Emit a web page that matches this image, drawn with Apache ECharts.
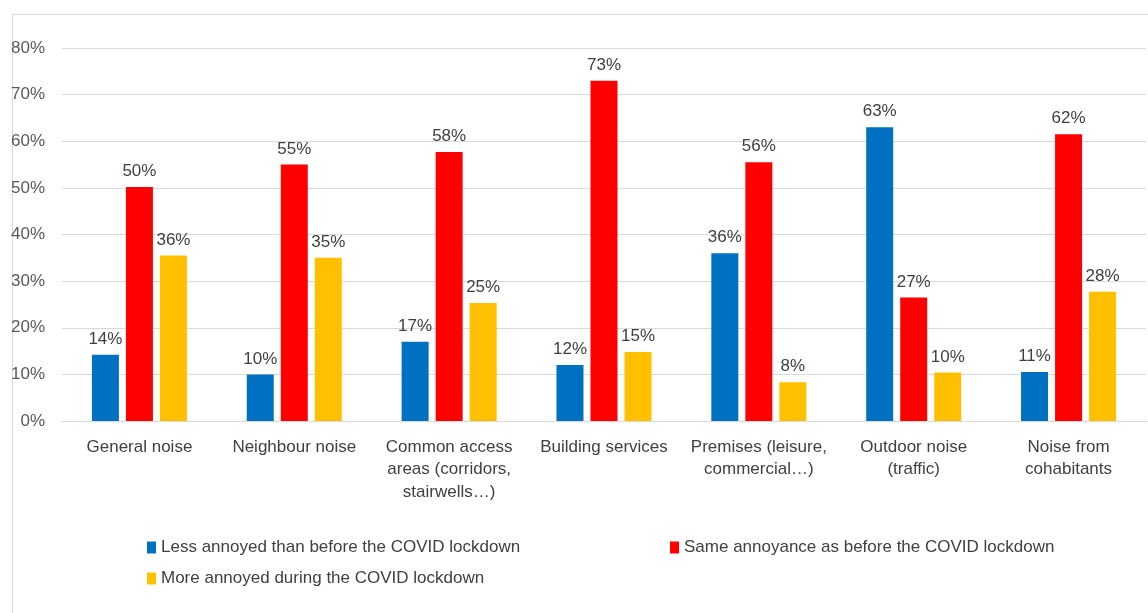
<!DOCTYPE html>
<html>
<head>
<meta charset="utf-8">
<style>
    html, body { margin: 0; padding: 0; background: #fff; }
    #chart { width: 1148px; height: 613px; }
</style>
</head>
<body>
<div id="chart"></div>
<script src="https://cdn.jsdelivr.net/npm/echarts@6/dist/echarts.min.js"></script>
<script>
    var categories = ['General noise', 'Neighbour noise', 'Common access\nareas (corridors,\nstairwells…)', 'Building services',
        'Premises (leisure,\ncommercial…)', 'Outdoor noise\n(traffic)', 'Noise from\ncohabitants'];
    var lessAnnoyed = [14.2, 10, 17, 12, 36, 63, 10.5];
    var sameAnnoyance = [50.2, 55, 57.7, 73, 55.5, 26.5, 61.5];
    var moreAnnoyed = [35.5, 35, 25.3, 14.8, 8.3, 10.4, 27.7];
    var seriesNames = ['Less annoyed than before the COVID lockdown', 'Same annoyance as before the COVID lockdown', 'More annoyed during the COVID lockdown'];
    var colors = ['#0070C0', '#FF0000', '#FFC000'];

    var font = '"Liberation Sans", Arial, sans-serif';
    var myChart = echarts.init(document.getElementById('chart'));

    function barSeries(name, data) {
        return {
            name: name,
            type: 'bar',
            data: data,
            barWidth: 27,
            barGap: '26%',
            label: {
                show: true,
                position: 'top',
                distance: 7,
                color: '#404040',
                fontFamily: font,
                fontSize: 17,
                formatter: function (p) { return Math.round(p.value) + '%'; }
            }
        };
    }

    function legendAt(name, left, top) {
        return {
            data: [name],
            left: left,
            top: top,
            itemWidth: 9,
            itemHeight: 12,
            itemGap: 4,
            icon: 'rect',
            textStyle: { color: '#404040', fontFamily: font, fontSize: 17 }
        };
    }

    var option = {
        color: colors,
        animation: false,
        graphic: [{
            type: 'rect',
            shape: { x: 12.5, y: 14.5, width: 1150, height: 620 },
            style: { fill: 'none', stroke: '#D9D9D9', lineWidth: 1 },
            silent: true
        }],
        legend: [
            legendAt(seriesNames[0], 142, 534),
            legendAt(seriesNames[1], 665, 534),
            legendAt(seriesNames[2], 142, 565)
        ],
        grid: {
            left: 62,
            right: 2,
            top: 48,
            height: 373,
            containLabel: false
        },
        xAxis: {
            type: 'category',
            data: categories,
            axisTick: { show: false },
            axisLine: { lineStyle: { color: '#D9D9D9', width: 1 } },
            axisLabel: {
                color: '#404040',
                fontFamily: font,
                fontSize: 17,
                lineHeight: 22.5,
                margin: 15,
                interval: 0
            }
        },
        yAxis: {
            type: 'value',
            min: 0,
            max: 80,
            interval: 10,
            axisLine: { show: false },
            axisTick: { show: false },
            splitLine: { lineStyle: { color: '#D9D9D9', width: 1 } },
            axisLabel: {
                color: '#595959',
                fontFamily: font,
                fontSize: 17,
                margin: 17,
                formatter: '{value}%'
            }
        },
        series: [
            barSeries(seriesNames[0], lessAnnoyed),
            barSeries(seriesNames[1], sameAnnoyance),
            barSeries(seriesNames[2], moreAnnoyed)
        ]
    };
    myChart.setOption(option);
</script>
</body>
</html>
